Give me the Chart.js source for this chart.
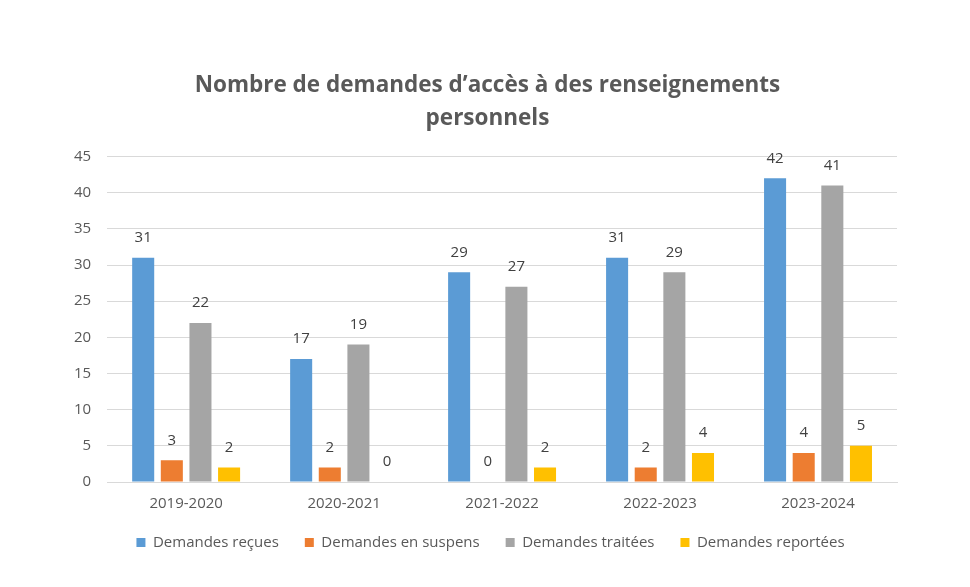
<!DOCTYPE html>
<html>
<head>
<meta charset="utf-8">
<script src="https://cdn.jsdelivr.net/npm/chart.js@4"></script>
<style>
  html, body { margin: 0; padding: 0; background: #fff; }
  #wrap { width: 970px; height: 587px; position: relative; }
</style>
</head>
<body>
<div id="wrap"><canvas id="c"></canvas></div>
<script>
const categories = ['2019-2020', '2020-2021', '2021-2022', '2022-2023', '2023-2024'];
const recues = [31, 17, 29, 31, 42];
const suspens = [3, 2, 0, 2, 4];
const traitees = [22, 19, 27, 29, 41];
const reportees = [2, 0, 2, 4, 5];
const yTicks = [0, 5, 10, 15, 20, 25, 30, 35, 40, 45];

const FONT = "'Open Sans', 'Noto Sans', sans-serif";

// draws the value above each bar, like the Excel data labels
const valueLabels = {
  id: 'valueLabels',
  afterDatasetsDraw(chart) {
    const ctx = chart.ctx;
    ctx.save();
    ctx.fillStyle = '#404040';
    ctx.font = '15px ' + FONT;
    ctx.textAlign = 'center';
    ctx.textBaseline = 'middle';
    chart.data.datasets.forEach((ds, i) => {
      chart.getDatasetMeta(i).data.forEach((bar, j) => {
        ctx.fillText(ds.data[j], bar.x, bar.y - 20);
      });
    });
    ctx.restore();
  }
};

// title and legend sit a bit right of the plot centre in the original
const nudge = {
  id: 'nudge',
  afterLayout(chart) {
    if (chart.legend) { chart.legend.left += 13; chart.legend.right += 13; }
    if (chart.titleBlock) { chart.titleBlock.left += 10; chart.titleBlock.right += 10; }
  }
};

new Chart(document.getElementById('c'), {
  type: 'bar',
  data: {
    labels: categories,
    datasets: [
      { label: 'Demandes reçues', data: recues, backgroundColor: '#5b9bd5' },
      { label: 'Demandes en suspens', data: suspens, backgroundColor: '#ed7d31' },
      { label: 'Demandes traitées', data: traitees, backgroundColor: '#a5a5a5' },
      { label: 'Demandes reportées', data: reportees, backgroundColor: '#ffc000' }
    ]
  },
  options: {
    responsive: true,
    maintainAspectRatio: false,
    animation: false,
    layout: { padding: { left: 58, right: 73, top: 52, bottom: 27 } },
    datasets: { bar: { categoryPercentage: 0.725, barPercentage: 0.77 } },
    plugins: {
      title: {
        display: true,
        text: ['Nombre de demandes d\u2019accès à des renseignements', 'personnels'],
        color: '#595959',
        font: { family: FONT, size: 22.5, weight: 'bold', lineHeight: 1.48 },
        padding: { top: 17, bottom: 21 }
      },
      legend: {
        position: 'bottom',
        labels: {
          color: '#595959',
          font: { family: FONT, size: 15 },
          boxWidth: 9,
          boxHeight: 9,
          padding: 26
        }
      },
      tooltip: { enabled: false }
    },
    scales: {
      x: {
        grid: { display: false },
        border: { color: '#d9d9d9', width: 1 },
        ticks: { color: '#595959', font: { family: FONT, size: 15 }, padding: 5 },
        afterFit(axis) { axis.height = 27; }
      },
      y: {
        min: 0,
        max: 45,
        afterBuildTicks(axis) { axis.ticks = yTicks.map(v => ({ value: v })); },
        grid: { color: '#d9d9d9', lineWidth: 1, drawTicks: false },
        border: { display: false },
        ticks: { color: '#595959', font: { family: FONT, size: 15 }, padding: 16 }
      }
    }
  },
  plugins: [valueLabels, nudge]
});
</script>
</body>
</html>
